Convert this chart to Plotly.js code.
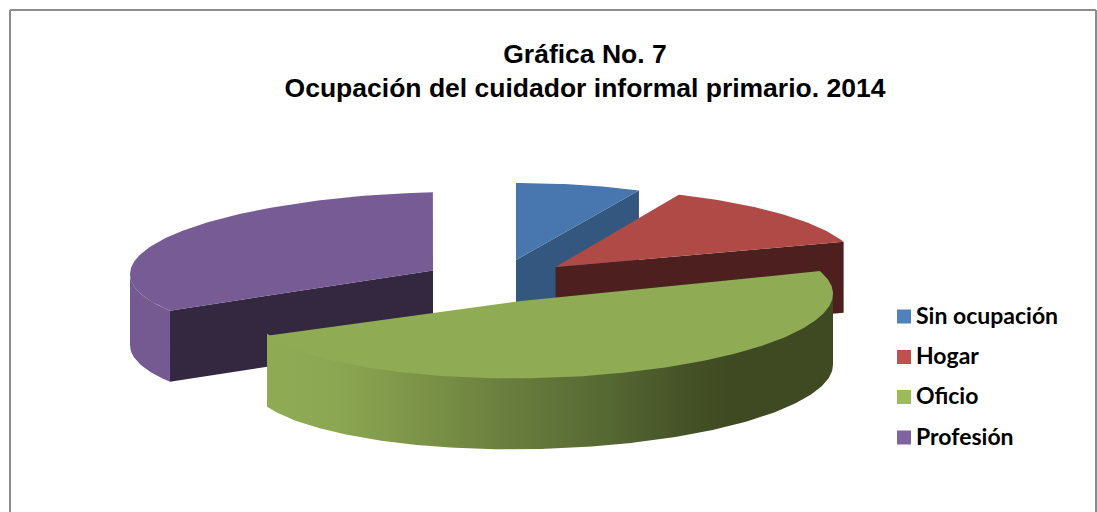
<!DOCTYPE html>
<html><head><meta charset="utf-8">
<script src="https://cdn.plot.ly/plotly-3.0.1.min.js"></script>
<style>html,body{margin:0;padding:0;background:#fff}#c{width:1097px;height:512px}</style>
</head><body><div id="c"></div>
<script>
// Data
const categories = ['Sin ocupación', 'Hogar', 'Oficio', 'Profesión'];
const values = [7, 13, 48, 32];
const legendColors = ['#4F81BD', '#C0504D', '#9BBB59', '#8064A2'];
const titleText = '<b>Gráfica No. 7<br>Ocupación del cuidador informal primario. 2014</b>';

// Styling and 3D view of each exploded slice, in page pixels
const views = [
 {top:'#4877B0', cut:'#34577F', ax:516, ay:260, cx:516, cy:260, rx:286, ry:77, s:0, start:0, k:1.01},
 {top:'#AF4A46', cut:'#4D1F1E', ax:555.5, ay:267, cx:555.5, cy:266, rx:303, ry:78, s:0, start:24, k:1.025},
 {top:'#775B94', cut:'#33283F', wall:'#745A90', ax:433, ay:270.5, cx:440, cy:268, rx:310, ry:76, s:-0.02, start:240.6, k:1.025},
 {top:'#8FAB54', wall:'grad', ax:521, ay:301, cx:540, cy:301, rx:293, ry:77, s:-0.025, start:72.7, k:1.0185}
];
const order = [0, 1, 2, 3];   // index into views: back to front
const viewValue = [values[0], values[1], values[3], values[2]];
const depth = 71;
const greenWall = [[0,'#8FAB54'],[0.12,'#8CA752'],[0.25,'#7E9649'],[0.42,'#6A7F3E'],[0.6,'#566833'],[0.76,'#434F25'],[0.82,'#3F4A22'],[1,'#3F4A22']];

function pt(v, deg, dy){
  const t = deg*Math.PI/180, dx = v.rx*Math.sin(t);
  return [v.cx+dx, v.cy - v.ry*Math.cos(t) + v.s*dx + (dy||0)];
}
function arc(v, a, b, dy){
  const out=[], n=Math.max(2,Math.ceil(Math.abs(b-a)));
  for(let i=0;i<=n;i++) out.push(pt(v, a+(b-a)*i/n, dy));
  return out;
}
function poly(points, color, gradient){
  const tr = {type:'scatter', mode:'lines', x:points.map(p=>p[0]), y:points.map(p=>p[1]),
    fill:'toself', line:{width:0, color:color||'#000'}, hoverinfo:'skip', showlegend:false};
  if(gradient){ tr.fillgradient={type:'horizontal', colorscale:gradient}; }
  else tr.fillcolor=color;
  return tr;
}
const traces=[];
order.forEach(i=>{
  const v=views[i], a=v.start, b=a+viewValue[i]*3.6*v.k;
  const A=[v.ax,v.ay];
  if(i===0||i===1){
    const e=pt(v,b);
    traces.push(poly([A,e,[e[0],e[1]+depth],[A[0],A[1]+depth]],v.cut));
  }
  if(i===2){
    const s=pt(v,a);
    traces.push(poly(arc(v,a,270).concat(arc(v,270,a,depth)),v.wall));
    traces.push(poly([A,s,[s[0],s[1]+depth],[A[0],A[1]+depth]],v.cut));
  }
  if(i===3){
    // the wall runs slightly under the top face so no seam shows between them
    traces.push(poly(arc(v,90,b,-2).concat(arc(v,b,90,depth)),null,greenWall));
  }
  traces.push(poly([A].concat(arc(v,a,b)),v.top));
});
// Legend as a marker column and a label column
traces.push({type:'scatter', mode:'markers', x:[904,904,904,904], y:[316.5,357,397,437.5],
  marker:{symbol:'square', size:14, color:legendColors, line:{width:0}},
  hoverinfo:'skip', showlegend:false, cliponaxis:false});
traces.push({type:'scatter', mode:'text', x:[916,916,916,916], y:[318,358.5,398.5,439],
  text:categories, textposition:'middle right',
  textfont:{family:'Lato, Carlito, sans-serif', size:23, color:'#000', weight:'bold'},
  hoverinfo:'skip', showlegend:false, cliponaxis:false});

const frame={type:'line', xref:'paper', yref:'paper', line:{color:'#8C8C8C', width:2}};
const W=1097,H=512;
Plotly.newPlot('c', traces, {
  width:W, height:H, margin:{l:0,r:0,t:0,b:0}, showlegend:false,
  paper_bgcolor:'#fff', plot_bgcolor:'#fff',
  xaxis:{range:[0,W], visible:false, fixedrange:true},
  yaxis:{range:[H,0], visible:false, fixedrange:true},
  title:{text:titleText, x:585/W, xanchor:'center', y:1-62.5/H, yanchor:'top',
    font:{family:'Liberation Sans, Arial, sans-serif', size:26.5, color:'#000'}},
  shapes:[
    Object.assign({x0:10/W,x1:10/W,y0:0,y1:1-10/H},frame),
    Object.assign({x0:10/W,x1:1096/W,y0:1-10/H,y1:1-10/H},frame),
    Object.assign({x0:1096/W,x1:1096/W,y0:0,y1:1-10/H},frame)
  ]
}, {displayModeBar:false, staticPlot:true});
</script></body></html>
